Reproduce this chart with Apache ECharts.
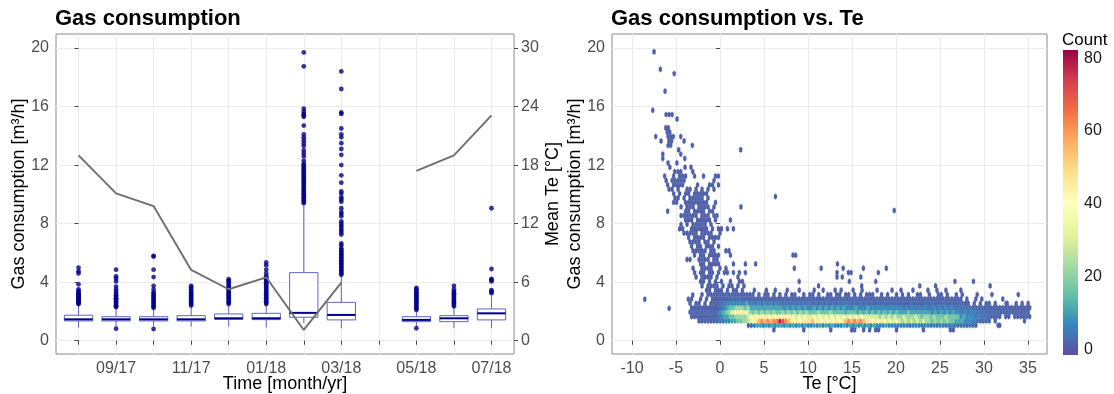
<!DOCTYPE html>
<html><head><meta charset="utf-8">
<script src="https://cdn.jsdelivr.net/npm/echarts@6/dist/echarts.min.js"></script>
<style>html,body{margin:0;padding:0;background:#fff}#c{width:1114px;height:394px}</style>
</head><body><div id="c"></div>
<script>
// ---------------- left panel data ----------------
const months = ['08/17','09/17','10/17','11/17','12/17','01/18','02/18','03/18','04/18','05/18','06/18','07/18'];
const monthTicks = [0,1,2,3,4,5,6,7,8,9,10,11];
const monthLabelTicks = [1,3,5,7,9,11];
const meanTe = [19.0, 15.1, 13.8, 7.25, 5.27, 6.5, 1.1, 5.95, null, 17.4, 19.0, 23.1];
const boxLow    = [0.89, 1.0, 1.0, 0.96, 0.96, 0.9, 1.2, 0.85, null, 0.95, 0.85, 0.85];
const boxQ1     = [1.35, 1.35, 1.35, 1.35, 1.46, 1.44, 1.6, 1.42, null, 1.3, 1.3, 1.42];
const boxMedian = [1.46, 1.46, 1.46, 1.46, 1.53, 1.53, 1.9, 1.76, null, 1.42, 1.53, 1.87];
const boxQ3     = [1.74, 1.64, 1.64, 1.71, 1.83, 1.87, 4.65, 2.62, null, 1.64, 1.71, 2.17];
const boxHigh   = [2.4, 2.2, 2.2, 2.3, 2.4, 2.45, 9.3, 4.4, null, 2.0, 2.3, 3.1];
const boxOutliers = [
  [2.5,2.55,2.6,2.65,2.7,2.75,2.8,2.85,2.9,2.95,3.0,3.05,3.1,3.15,3.2,3.3,3.4,3.5,3.85,4.6,4.75,5.0],
  [0.82,2.3,2.35,2.4,2.5,2.6,2.7,2.8,2.85,2.9,3.0,3.1,3.2,3.35,3.5,3.7,4.05,4.25,4.4,4.85],
  [0.8,2.25,2.3,2.4,2.5,2.6,2.7,2.8,2.9,3.0,3.1,3.2,3.3,3.5,3.75,4.35,4.85,5.75,5.8],
  [2.4,2.5,2.6,2.7,2.8,2.9,3.0,3.1,3.2,3.3,3.4,3.5,3.65,3.75],
  [2.5,2.6,2.7,2.8,2.9,3.0,3.1,3.2,3.3,3.4,3.5,3.6,3.7,3.8,3.9,4.05,4.1,4.2],
  [2.5,2.6,2.7,2.8,2.9,3.0,3.1,3.2,3.3,3.4,3.5,3.6,3.7,3.8,3.9,4.0,4.1,4.2,4.3,4.4,4.6,4.85,5.15,5.35],
  [9.4,9.5,9.6,9.7,9.8,9.9,10.0,10.1,10.2,10.3,10.4,10.5,10.6,10.7,10.8,10.9,11.0,11.1,11.2,11.3,11.4,11.5,11.6,11.7,11.8,11.9,12.0,12.1,12.3,12.6,12.8,13.0,13.3,13.5,13.7,13.9,14.1,14.7,15.3,15.4,15.5,15.65,15.85,18.75,19.7],
  [4.5,4.6,4.7,4.8,4.9,5.0,5.1,5.2,5.3,5.4,5.5,5.6,5.7,5.8,5.9,6.0,6.1,6.2,6.3,6.5,6.65,7.25,7.4,7.55,7.7,7.85,8.0,8.15,8.5,8.65,8.8,9.05,9.5,9.65,9.8,10.05,10.2,10.8,11.3,12.0,12.7,13.1,13.5,13.9,14.1,14.5,15.5,15.6,17.2,18.4],
  [],
  [0.85,2.1,2.2,2.3,2.4,2.5,2.6,2.7,2.8,2.9,3.0,3.1,3.2,3.3,3.4,3.5,3.6],
  [2.35,2.45,2.55,2.65,2.75,2.85,2.95,3.05,3.15,3.25,3.35,3.5,3.75],
  [3.25,3.35,3.45,4.05,4.15,4.22,4.9,9.05]
];
// ---------------- right panel data (hex cells) ----------------
// grid of hex bins: column step 0.34 degC, row step 0.3 m3/h, odd rows shifted half a column
const hexDX = 0.34, hexDY = 0.3, hexY0 = 0.75;
// count code: '.' = empty
const countLevels = {'1':1,'2':2,'3':4,'4':7,'5':11,'6':16,'7':22,'8':30,'9':38,'a':46,'b':55,'c':62,'d':70,'e':78};
// dense band, rows 0.75 .. 3.45, columns from Te = -3.4
const bandX0 = -3.4;
const bandRows = [
  '.......... .......... ........1. ........1. .......1.. ....11..1. 1.11.....1 ........1. .......11. .......... .......... ....',
  '.......... .........2 3455454545 5454545454 4545454544 4545454545 4544454444 4443444344 3434433433 332321.... ...1...... ....',
  '...1121122 3344556677 89abcbcbcc edcba9a9aa ab9a9a9a9a 9abcbcbcba a9a9a98989 8787878787 7676767665 5544433222 2.1....... ....',
  '1121212223 4556677778 9a9a9a9a9a 9a9a989898 8989898989 8989898988 8887878787 7877787677 6766676666 4544434332 2121.11.21 1121',
  '1212122222 456789a9a9 7676767676 6767676767 6667666766 6656665656 5656565656 5556555555 5454545454 4343433332 2222121212 2121',
  '1112111211 3456677767 5555555555 5454545454 4545454545 4544454445 4444444444 4343434343 3434343433 3333222222 2121212111 1111',
  '1.11.1.111 2334444445 3434343434 3333333333 3232323232 3333232323 2323232323 2222322223 2322232222 2211.1.1.1 1.1...1..1 .1.1',
  '1..1.1.111 1222323222 2121212121 1212121212 2121212121 1212121212 1121112121 1211121112 1121112111 1.1..1.1.. ....1..... ....',
  '....1.1111 1121211111 11.1.11.1. 1.1.11..1. 11.1..11.1 1.11.1.1.1 11..1.1..1 .1.1..11.. 1..11.1..1 .1....1... .......... ....',
  '.....11.11 1.1.11.1.. .1...1..1. ..1...1... .1..1...1. 1...1..1.. ..1....1.. 1...1....1 ..1..1.... 1......... .......... ....'
];
// cold-day cloud, rows 3.75 .. 11.25, columns from Te = -7.14
const cloudX0 = -7.14;
const cloudRows = [
  '.......... .....1.111 1.1.11.1.1',
  '.......... ....11.1.1 .1..1..11.',
  '.......... ...1.1111. 1......1..',
  '.......... ..1.11.11. 1.11.1.1.1',
  '.......... ..1..1111. .1.1......',
  '.......... ....11.111 1....1...1',
  '.......... 11..1111.1 1.........',
  '.......... ..1.11.111 1...1.....',
  '.......... ..11111.11 ...11.....',
  '.......... .1.11.111. 1.........',
  '.......... .1111.11.1 ..........',
  '.......... 1.1111.111 1.........',
  '.........1 1111.1111. .1........',
  '.......11. .111111.1. 11.1.1....',
  '........1. 1.11111.1. ..........',
  '.........1 11.11111.1 ....1.....',
  '........11 1111.111.1 1.........',
  '...1.....1 1.1111.11. ..........',
  '........1. 111.1111.1 ........1.',
  '.....11..1 1111111..1 ..........',
  '......11.1 .11111.1.. ..........',
  '.....1.1.1 1.11111... ..........',
  '....11.1.. 11.1.1.1.1 ..........',
  '...1.1111. ...1...11. 1.........',
  '...1.11111 .........1 ..........',
  '..1..1.111 ..1..1...1 1.........'
];
// isolated hexes [Te, gas, count]
const sparseHex = [
  [-5.14,11.55,1],[-4.76,11.55,1],[-4.46,11.55,1],[-3.1,11.55,1],[-5.7,11.85,1],[-3.97,11.85,1],[-3.3,11.85,1],
  [-5.9,12.15,1],[-4.9,12.15,1],[-6.5,12.45,1],[-4.0,12.45,1],[-6.5,12.75,1],[-4.46,12.75,1],[-4.7,13.05,1],
  [2.35,13.05,1],[-3.14,13.35,1],[-5.9,13.35,1],[-5.6,13.35,1],[-6.7,13.65,1],[-4.08,13.65,1],[-5.8,13.65,1],
  [-5.5,13.65,1],[-7.3,13.95,1],[-4.46,13.95,1],[-5.9,13.95,1],[-5.6,13.95,1],[-5.3,13.95,1],[-6.0,14.25,1],
  [-5.7,14.25,1],[-6.16,14.55,1],[-5.86,14.55,1],[-4.88,15.15,1],[-6.12,15.45,1],[-5.78,15.45,1],[-5.44,15.45,1],
  [-7.64,15.75,1],[-6.24,17.05,1],[-5.2,18.25,1],[-6.77,18.55,1],[-7.49,19.75,1],
  [-8.55,2.83,1],[-5.78,2.21,1],[-3.6,2.83,1],[-3.1,3.12,1],
  [4.05,5.25,1],[6.3,9.85,1],[8.3,5.85,1],[8.6,5.85,1],[8.45,4.95,1],[9.0,4.05,1],[11.5,4.95,1],[13.35,5.25,1],
  [14.0,4.95,1],[14.6,4.65,1],[14.9,4.65,1],[16.3,4.95,1],[18.0,4.65,1],[18.9,4.95,1],[13.3,4.35,1],[13.9,4.35,1],
  [14.7,4.05,1],[16.0,4.35,1],[17.7,4.05,1],[11.2,3.75,1],[16.1,3.75,1],[19.8,8.9,1],[22.7,3.75,1],[24.5,3.75,1],
  [26.7,4.05,1],[28.8,4.05,1],[30.7,3.75,1],[30.9,3.15,1],[32.5,2.55,1],[33.9,3.15,1],[34.6,1.35,1],[31.6,1.05,1],
  [13.3,4.65,1]
];
const spectralRev = ['#5E4FA2','#3288BD','#66C2A5','#ABDDA4','#E6F598','#FFFFBF','#FEE08B','#FDAE61','#F46D43','#D53E4F','#9E0142'];
const countMin = -1.6, countMax = 82.3;
const countTicks = [0,20,40,60,80];
const teTicks = [-10,-5,0,5,10,15,20,25,30,35];
const gasTicks = [0,4,8,12,16,20];
const meanTeTicks = [0,6,12,18,24,30];

// ---------------- build series data ----------------
const hexData = [];
function addGrid(rows, x0, jOffset) {
  rows.forEach((r, k) => {
    const s = r.replace(/ /g, '');
    const j = jOffset + k;
    for (let i = 0; i < s.length; i++) {
      const ch = s[i];
      if (ch === '.') continue;
      hexData.push([x0 + i * hexDX + (j % 2 ? hexDX / 2 : 0), hexY0 + j * hexDY, countLevels[ch]]);
    }
  });
}
addGrid(bandRows, bandX0, 0);
addGrid(cloudRows, cloudX0, 10);
sparseHex.forEach(p => hexData.push(p));

const boxData = [];
const outlierData = [];
months.forEach((m, i) => {
  if (boxMedian[i] != null) boxData.push([i, boxLow[i], boxQ1[i], boxMedian[i], boxQ3[i], boxHigh[i]]);
  boxOutliers[i].forEach(v => outlierData.push([i, v]));
});
const lineData = meanTe.map((v, i) => [i, v == null ? '-' : v]);

const FONT = 'Liberation Sans, Arial, sans-serif';
const tickLabel = {color: '#4d4d4d', fontSize: 16, fontFamily: FONT};
const axisNameStyle = {color: '#000', fontSize: 18, fontFamily: FONT};
const gridLine = {show: true, lineStyle: {color: '#ebebeb', width: 1}};
const tickStyle = {show: true, length: 4, lineStyle: {color: '#444', width: 1}};
const boxLine = '#6262c6';

const chart = echarts.init(document.getElementById('c'), null, {renderer: 'canvas'});
chart.setOption({
  animation: false,
  backgroundColor: '#fff',
  textStyle: {fontFamily: FONT},
  title: [
    {text: 'Gas consumption', left: 55, top: 8, padding: 0, textStyle: {fontSize: 22, fontWeight: 'bold', color: '#000', fontFamily: FONT}},
    {text: 'Gas consumption vs. Te', left: 611, top: 8, padding: 0, textStyle: {fontSize: 22, fontWeight: 'bold', color: '#000', fontFamily: FONT}},
    {text: 'Count', left: 1062, top: 32, padding: 0, textStyle: {fontSize: 17, fontWeight: 'normal', color: '#000', fontFamily: FONT}}
  ],
  grid: [
    {left: 56, top: 34, width: 458, height: 320, show: true, borderColor: '#8a8a8a', borderWidth: 1, backgroundColor: 'transparent', outerBoundsMode: 'none'},
    {left: 612, top: 34, width: 435, height: 320, show: true, borderColor: '#8a8a8a', borderWidth: 1, backgroundColor: 'transparent', outerBoundsMode: 'none'},
    {left: 1063, top: 50, width: 15, height: 305, show: false, outerBoundsMode: 'none'}
  ],
  xAxis: [
    {type: 'value', gridIndex: 0, min: -0.6, max: 11.6,
     axisLine: {show: false}, axisTick: Object.assign({customValues: monthTicks}, tickStyle),
     axisLabel: Object.assign({customValues: monthLabelTicks, margin: 7, formatter: v => months[Math.round(v)]}, tickLabel),
     splitLine: gridLine,
     name: 'Time [month/yr]', nameLocation: 'middle', nameGap: 21, nameMoveOverlap: false, nameTextStyle: axisNameStyle},
    {type: 'value', gridIndex: 1, min: -12.27, max: 37.16,
     axisLine: {show: false}, axisTick: Object.assign({customValues: teTicks}, tickStyle),
     axisLabel: Object.assign({customValues: teTicks, margin: 7}, tickLabel),
     splitLine: gridLine,
     name: 'Te [°C]', nameLocation: 'middle', nameGap: 21, nameMoveOverlap: false, nameTextStyle: axisNameStyle},
    {type: 'value', gridIndex: 2, min: 0, max: 1, show: false}
  ],
  yAxis: [
    {type: 'value', gridIndex: 0, min: -0.91, max: 20.96,
     axisLine: {show: false}, axisTick: Object.assign({customValues: gasTicks}, tickStyle),
     axisLabel: Object.assign({customValues: gasTicks, margin: 7}, tickLabel),
     splitLine: gridLine,
     name: 'Gas consumption [m³/h]', nameLocation: 'middle', nameRotate: 90, nameGap: 28, nameMoveOverlap: false, nameTextStyle: axisNameStyle},
    {type: 'value', gridIndex: 0, position: 'right', min: -1.365, max: 31.44,
     axisLine: {show: false}, axisTick: Object.assign({customValues: meanTeTicks}, tickStyle),
     axisLabel: Object.assign({customValues: meanTeTicks, margin: 7}, tickLabel),
     splitLine: {show: false},
     name: 'Mean Te [°C]', nameLocation: 'middle', nameRotate: 90, nameGap: 30, nameMoveOverlap: false, nameTextStyle: axisNameStyle},
    {type: 'value', gridIndex: 1, min: -0.91, max: 20.96,
     axisLine: {show: false}, axisTick: Object.assign({customValues: gasTicks}, tickStyle),
     axisLabel: Object.assign({customValues: gasTicks, margin: 7}, tickLabel),
     splitLine: gridLine,
     name: 'Gas consumption [m³/h]', nameLocation: 'middle', nameRotate: 90, nameGap: 28, nameMoveOverlap: false, nameTextStyle: axisNameStyle},
    {type: 'value', gridIndex: 2, position: 'right', min: countMin, max: countMax,
     axisLine: {show: false}, axisTick: {show: false},
     axisLabel: {customValues: countTicks, margin: 6, color: '#1a1a1a', fontSize: 16, fontFamily: FONT},
     splitLine: {show: false}}
  ],
  visualMap: [{type: 'continuous', show: false, seriesIndex: 3, dimension: 2, min: countMin, max: countMax, inRange: {color: spectralRev}}],
  series: [
    {type: 'custom', xAxisIndex: 0, yAxisIndex: 0, data: boxData, encode: {x: 0, y: [1, 2, 3, 4, 5]},
     renderItem: function (params, api) {
       const x = api.value(0), lo = api.value(1), q1 = api.value(2), med = api.value(3), q3 = api.value(4), hi = api.value(5);
       const hw = 0.377;
       const tl = api.coord([x - hw, q3]), br = api.coord([x + hw, q1]);
       const pLo = api.coord([x, lo]), pHi = api.coord([x, hi]), pQ1 = api.coord([x, q1]), pQ3 = api.coord([x, q3]);
       const mL = api.coord([x - hw, med]), mR = api.coord([x + hw, med]);
       return {type: 'group', children: [
         {type: 'line', shape: {x1: pHi[0], y1: pHi[1], x2: pQ3[0], y2: pQ3[1]}, style: {stroke: boxLine, lineWidth: 1}},
         {type: 'line', shape: {x1: pLo[0], y1: pLo[1], x2: pQ1[0], y2: pQ1[1]}, style: {stroke: boxLine, lineWidth: 1}},
         {type: 'rect', shape: {x: tl[0], y: tl[1], width: br[0] - tl[0], height: br[1] - tl[1]}, style: {fill: '#fff', stroke: boxLine, lineWidth: 1}},
         {type: 'line', shape: {x1: mL[0], y1: mL[1], x2: mR[0], y2: mR[1]}, style: {stroke: '#00008B', lineWidth: 2}}
       ]};
     }},
    {type: 'scatter', xAxisIndex: 0, yAxisIndex: 0, data: outlierData, symbol: 'circle', symbolSize: 4.8,
     itemStyle: {color: '#00008B'}},
    {type: 'line', xAxisIndex: 0, yAxisIndex: 1, data: lineData, showSymbol: false, connectNulls: false,
     lineStyle: {color: '#6e6e6e', width: 1.9}, itemStyle: {color: '#6e6e6e'}},
    {type: 'custom', xAxisIndex: 1, yAxisIndex: 2, data: hexData, encode: {x: 0, y: 1}, clip: true,
     renderItem: function (params, api) {
       const x = api.value(0), y = api.value(1);
       const hw = hexDX / 2, hh = hexDY * 2 / 3;
       const pts = [[x, y + hh], [x + hw, y + hh / 2], [x + hw, y - hh / 2], [x, y - hh], [x - hw, y - hh / 2], [x - hw, y + hh / 2]].map(p => api.coord(p));
       const c = api.visual('color');
       return {type: 'polygon', shape: {points: pts}, style: {fill: c, stroke: c, lineWidth: 0.3}};
     }},
    {type: 'custom', xAxisIndex: 2, yAxisIndex: 3, data: [[0, countMin, countMax]],
     renderItem: function (params, api) {
       const top = api.coord([0, api.value(2)]), bot = api.coord([1, api.value(1)]);
       const stops = spectralRev.map((c, i) => ({offset: 1 - i / (spectralRev.length - 1), color: c}));
       stops.reverse();
       return {type: 'rect', shape: {x: top[0], y: top[1], width: bot[0] - top[0], height: bot[1] - top[1]},
               style: {fill: new echarts.graphic.LinearGradient(0, 0, 0, 1, stops)}};
     }}
  ]
});
</script>
</body></html>
